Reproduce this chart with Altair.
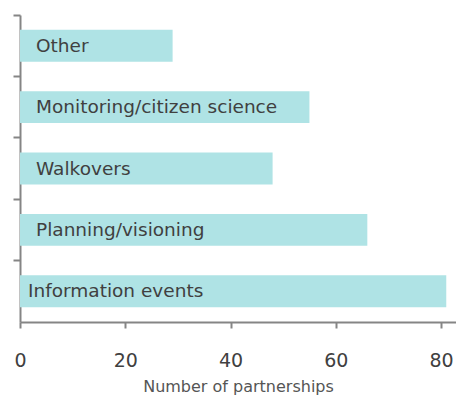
import altair as alt
import pandas as pd

categories = ["Other", "Monitoring/citizen science", "Walkovers", "Planning/visioning", "Information events"]
values = [29, 55, 48, 66, 81]
tick_values = [0, 20, 40, 60, 80]

df = pd.DataFrame({"activity": categories, "partnerships": values})

FONT = "DejaVu Sans"
GREY = "#858585"
TXT = "#404040"

yscale = alt.Scale(paddingInner=0.48, paddingOuter=0.24)
xscale = alt.Scale(domain=[0, 82.85], nice=False)

y_axis = alt.Y(
    "activity:N", sort=categories, scale=yscale,
    axis=alt.Axis(labels=False, title=None, bandPosition=-0.4615, ticks=True, tickSize=7,
                  tickColor=GREY, tickWidth=2, domainColor=GREY, domainWidth=2, grid=False),
)
x_axis = alt.X(
    "partnerships:Q", scale=xscale,
    axis=alt.Axis(values=tick_values, title="Number of partnerships", grid=False, labelFlush=False,
                  tickColor=GREY, tickWidth=2, tickSize=6, domainColor=GREY, domainWidth=2,
                  labelFontSize=19, labelColor=TXT, labelFont=FONT, labelPadding=23,
                  titleFontSize=16, titleColor="#555555", titleFont=FONT, titleFontWeight="normal",
                  titlePadding=8),
)

bars = alt.Chart(df).mark_bar(color="#afe3e5").encode(x=x_axis, y=y_axis)

labels_main = alt.Chart(df).transform_filter(
    alt.datum.activity != "Information events"
).mark_text(align="left", baseline="middle", dx=16, fontSize=18.5, color=TXT, font=FONT).encode(
    x=alt.datum(0), y=y_axis, text="activity:N"
)
labels_info = alt.Chart(df).transform_filter(
    alt.datum.activity == "Information events"
).mark_text(align="left", baseline="middle", dx=8, fontSize=18.5, color=TXT, font=FONT).encode(
    x=alt.datum(0), y=y_axis, text="activity:N"
)

chart = alt.layer(bars, labels_main, labels_info).properties(
    width=436, height=307,
    title=alt.TitleParams("in 2021/22", fontSize=27, color=TXT, fontWeight="normal", font=FONT,
                          offset=4, baseline="alphabetic", anchor="middle"),
    padding={"left": 12, "top": 7, "right": 0, "bottom": 73},
    autosize="none",
).configure_view(stroke=None)

chart.save("out.html", embed_options={"renderer": "svg", "actions": False})
